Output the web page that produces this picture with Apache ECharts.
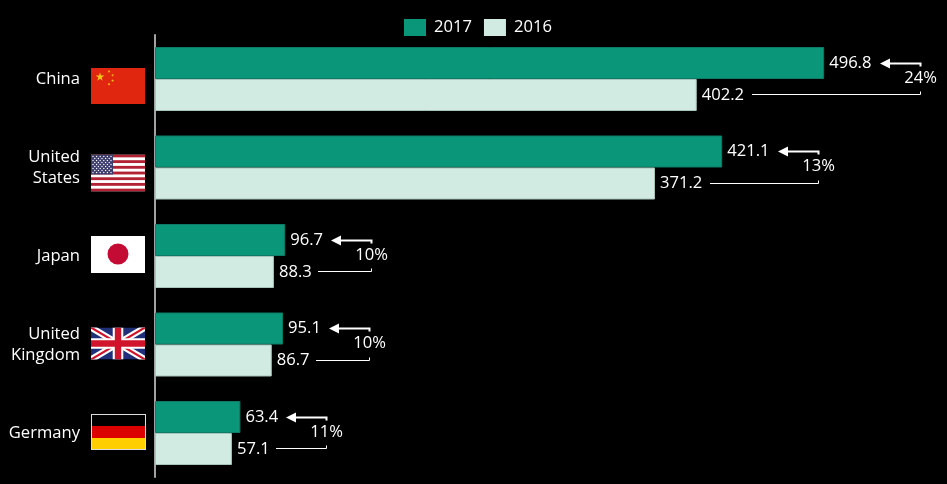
<!DOCTYPE html>
<html><head><meta charset="utf-8">
<style>html,body{margin:0;padding:0;background:#000}#c{width:947px;height:484px}</style>
<script src="https://cdn.jsdelivr.net/npm/echarts@6/dist/echarts.min.js"></script>
</head><body><div id="c"></div>
<script>
const categories = ['China', 'United\nStates', 'Japan', 'United\nKingdom', 'Germany'];
const values2017 = [496.8, 421.1, 96.7, 95.1, 63.4];
const values2016 = [402.2, 371.2, 88.3, 86.7, 57.1];
const changes = ['24%', '13%', '10%', '10%', '11%'];
const seriesNames = ['2017', '2016'];

const font = '"Open Sans", "Noto Sans", sans-serif';
const fontSize = 16.6;
const flagY = [7, 5.5, -1.5, -1, -1];
const flagH = [36, 37, 37, 32, 36];

function star(cx, cy, r, rot) {
  let p = [];
  for (let i = 0; i < 10; i++) {
    const a = rot - Math.PI / 2 + i * Math.PI / 5, q = i % 2 ? r * 0.382 : r;
    p.push((cx + q * Math.cos(a)).toFixed(2) + ',' + (cy + q * Math.sin(a)).toFixed(2));
  }
  return `<polygon points="${p.join(' ')}" fill="#f5c518"/>`;
}
function usFlag() {
  let s = '<rect width="54" height="37" fill="#fff"/>';
  for (let i = 0; i < 7; i++) s += `<rect y="${(i * 2 * 37 / 13).toFixed(2)}" width="54" height="${(37 / 13).toFixed(2)}" fill="#b22234"/>`;
  s += '<rect width="22" height="20" fill="#3c3b6e"/>';
  for (let r = 0; r < 9; r++) for (let c = 0; c < (r % 2 ? 5 : 6); c++)
    s += `<circle cx="${(2 + c * 3.6 + (r % 2 ? 1.8 : 0)).toFixed(1)}" cy="${(2 + r * 2).toFixed(1)}" r="0.7" fill="#fff"/>`;
  return s;
}
const flagSvgs = [
  ['54 36', '<rect width="54" height="36" fill="#e1260f"/>' + star(9, 9, 4.6, 0) + star(18, 3.6, 1.6, .6) + star(21.6, 7.2, 1.6, 1) + star(21.6, 12.6, 1.6, 0) + star(18, 16.2, 1.6, .6)],
  ['54 37', usFlag()],
  ['54 37', '<rect width="54" height="37" fill="#fff"/><circle cx="27" cy="18" r="10.5" fill="#c40b33"/>'],
  ['54 32', '<rect width="54" height="32" fill="#1f2f78"/><path d="M0 0L54 32M54 0L0 32" stroke="#fff" stroke-width="6.4"/><path d="M0 0L54 32M54 0L0 32" stroke="#cf142b" stroke-width="2.2"/><path d="M27 0V32M0 16H54" stroke="#fff" stroke-width="10.6"/><path d="M27 0V32M0 16H54" stroke="#cf142b" stroke-width="6.4"/>'],
  ['55 36', '<rect width="55" height="36" fill="#ddd"/><rect x="1" y="1" width="53" height="11.5" fill="#000"/><rect x="1" y="12" width="53" height="12" fill="#dd0000"/><rect x="1" y="24" width="53" height="11" fill="#ffce00"/>']
].map(([vb, body]) => {
  const [w, h] = vb.split(' ');
  return 'data:image/svg+xml;charset=utf-8,' + encodeURIComponent(`<svg xmlns="http://www.w3.org/2000/svg" width="${w * 4}" height="${h * 4}" viewBox="0 0 ${vb}">${body}</svg>`);
});

const annotationData = categories.map((c, i) => [i, values2017[i], values2016[i], changes[i]]);

function renderFlag(params, api) {
  const i = api.value(0);
  const c = api.coord([0, i]);
  const h = flagH[i];
  return {
    type: 'image',
    style: { image: flagSvgs[i], x: c[0] - 64, y: c[1] + flagY[i] - h / 2, width: i === 4 ? 55 : 54, height: h }
  };
}
function renderAnnotation(params, api) {
  const i = api.value(0), a = api.value(1), b = api.value(2);
  const pa = api.coord([a, i]), pb = api.coord([b, i]);
  const off = 16.25;
  const yT = Math.round(pa[1] - off) + 0.5, yB = Math.round(pa[1] + off) - 0.5;
  const gap = String(a).length > 4 ? 56 : 45.5;
  const tip = Math.round(pa[0] + gap);
  const br = tip + 40.5;
  const start = Math.round(pb[0] + gap - 1.2);
  const line = { stroke: '#fff', fill: 'none' };
  return {
    type: 'group', silent: true, children: [
      { type: 'polygon', shape: { points: [[tip, yT], [tip + 10, yT - 5], [tip + 10, yT + 5]] }, style: { fill: '#fff' } },
      { type: 'polyline', shape: { points: [[tip + 8, yT], [br, yT], [br, yT + 3]] }, style: { ...line, lineWidth: 2 } },
      { type: 'polyline', shape: { points: [[start, yB], [br, yB], [br, yB - 3]] }, style: { ...line, lineWidth: 1 } },
      { type: 'text', style: { text: api.value(3), x: br, y: pa[1] - 1, align: 'center', verticalAlign: 'middle', fill: '#fff', font: fontSize + 'px ' + font } }
    ]
  };
}
const barLabel = { show: true, position: 'right', distance: 5, color: '#fff', fontFamily: font, fontSize: fontSize, formatter: p => p.value.toFixed(1) };

const chart = echarts.init(document.getElementById('c'), null, { renderer: 'canvas' });
chart.setOption({
  animation: false,
  backgroundColor: '#000',
  textStyle: { fontFamily: font },
  legend: {
    data: seriesNames, left: 404, top: 19, itemWidth: 22, itemHeight: 17, itemGap: 12,
    icon: 'rect', itemStyle: { borderWidth: 0 },
    textStyle: { color: '#fff', fontFamily: font, fontSize: fontSize, padding: [0, 0, 0, 3] }, padding: 0
  },
  grid: { left: 155, right: 0, top: 34.75, bottom: 6.75 },
  xAxis: { type: 'value', min: 0, max: 588, show: false },
  yAxis: {
    type: 'category', inverse: true, data: categories,
    axisLine: { show: true, lineStyle: { color: '#d8d8d8', width: 1.5 } },
    axisTick: { show: false },
    axisLabel: { color: '#fff', fontFamily: font, fontSize: fontSize, lineHeight: 21, margin: 75, align: 'right' }
  },
  series: [
    { name: seriesNames[0], type: 'bar', data: values2017, barWidth: 32, barGap: 0, itemStyle: { color: '#0a9678', borderColor: '#0d7c66', borderWidth: 1 }, label: barLabel },
    { name: seriesNames[1], type: 'bar', data: values2016, barWidth: 32, barGap: 0, itemStyle: { color: '#d1ebe2', borderColor: '#a7c5ba', borderWidth: 1 }, label: barLabel },
    { type: 'custom', name: 'flags', renderItem: renderFlag, data: annotationData, encode: { x: 1, y: 0 }, silent: true, clip: false, z: 5 },
    { type: 'custom', name: 'change', renderItem: renderAnnotation, data: annotationData, encode: { x: 1, y: 0 }, silent: true, clip: false, z: 5 }
  ]
});
</script></body></html>
